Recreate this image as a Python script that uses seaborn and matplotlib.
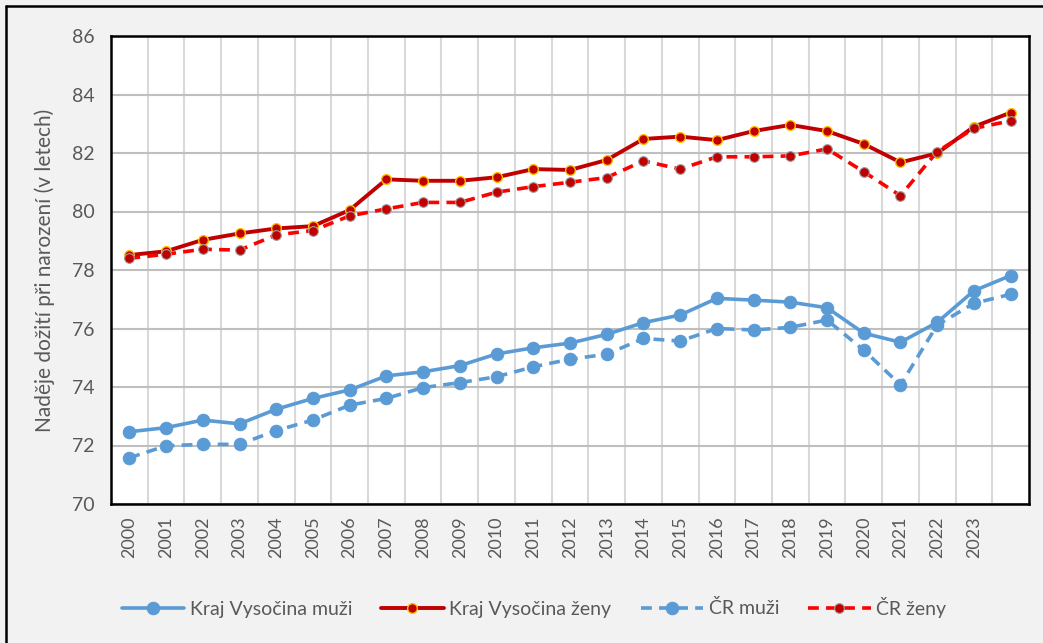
import pandas as pd
import matplotlib.pyplot as plt
import seaborn as sns
from matplotlib.lines import Line2D

# data
roky = list(range(2000, 2025))
popisky = [str(r) for r in range(2000, 2024)] + ['']

kraj_muzi = [72.47, 72.61, 72.87, 72.74, 73.24, 73.61, 73.90, 74.38, 74.52, 74.73,
             75.13, 75.34, 75.50, 75.80, 76.20, 76.46, 77.03, 76.97, 76.90, 76.71,
             75.84, 75.53, 76.21, 77.29, 77.81]
kraj_zeny = [78.51, 78.64, 79.03, 79.25, 79.42, 79.50, 80.05, 81.10, 81.05, 81.05,
             81.17, 81.45, 81.42, 81.76, 82.48, 82.56, 82.44, 82.75, 82.96, 82.75,
             82.31, 81.68, 81.99, 82.90, 83.38]
cr_muzi = [71.58, 71.99, 72.04, 72.04, 72.51, 72.87, 73.38, 73.61, 73.98, 74.15,
           74.35, 74.69, 74.95, 75.12, 75.66, 75.57, 76.00, 75.95, 76.04, 76.29,
           75.26, 74.07, 76.12, 76.86, 77.17]
cr_zeny = [78.40, 78.54, 78.71, 78.68, 79.20, 79.35, 79.85, 80.09, 80.31, 80.31,
           80.66, 80.85, 81.00, 81.16, 81.73, 81.45, 81.87, 81.87, 81.90, 82.14,
           81.36, 80.54, 82.05, 82.84, 83.10]

df = pd.DataFrame({'rok': roky, 'Kraj Vysočina muži': kraj_muzi,
                   'Kraj Vysočina ženy': kraj_zeny, 'ČR muži': cr_muzi,
                   'ČR ženy': cr_zeny})

sns.set_theme(style="white")
plt.rcParams['font.family'] = ['Lato', 'DejaVu Sans']
seda = '#595959'

fig = plt.figure(figsize=(10.43, 6.43), dpi=100, facecolor='#f2f2f2')
ax = fig.add_axes([111 / 1043, 1 - 504 / 643, 918 / 1043, 468 / 643])
ax.set_facecolor('white')

styly = {
    'Kraj Vysočina muži': dict(color='#5b9bd5', linestyle='-', marker='o', markersize=9,
                               markerfacecolor='#5b9bd5', markeredgecolor='#5b9bd5', linewidth=2.6),
    'Kraj Vysočina ženy': dict(color='#c00000', linestyle='-', marker='o', markersize=7,
                               markerfacecolor='#c00000', markeredgecolor='#ffc000', markeredgewidth=1.0, linewidth=2.8),
    'ČR muži': dict(color='#5b9bd5', linestyle=(0, (3, 2)), marker='o', markersize=9,
                    markerfacecolor='#5b9bd5', markeredgecolor='#5b9bd5', linewidth=2.6),
    'ČR ženy': dict(color='#ff0000', linestyle=(0, (3, 2)), marker='o', markersize=7,
                    markerfacecolor='#c00000', markeredgecolor='#a0a0a0', markeredgewidth=0.8, linewidth=2.6),
}

for nazev, st in styly.items():
    sns.lineplot(data=df, x='rok', y=nazev, ax=ax, label=nazev, **st)

ax.set_xlim(1999.5, 2024.5)
ax.set_ylim(70, 86)
ax.set_yticks(range(70, 87, 2))
ax.set_xticks(roky)
ax.set_xticklabels(popisky, rotation=90, fontsize=13, color=seda)
ax.set_xticks([r + 0.5 for r in roky[:-1]], minor=True)
ax.tick_params(axis='y', labelsize=14, labelcolor=seda, length=0, pad=12)
ax.tick_params(axis='x', which='both', length=0, pad=9)
ax.grid(axis='y', which='major', color='#bfbfbf', linewidth=1.5)
ax.grid(axis='x', which='minor', color='#d9d9d9', linewidth=1.5)
ax.set_axisbelow(True)
ax.set_xlabel('')
ax.set_ylabel('Naděje dožití při narození (v letech)', fontsize=15, color=seda, labelpad=12)
for s in ax.spines.values():
    s.set_color('black')
    s.set_linewidth(1.8)

handles, labels = ax.get_legend_handles_labels()
ax.get_legend().remove()
fig.legend(handles, labels, loc='center', bbox_to_anchor=(534 / 1043, 1 - 607 / 643), ncol=4,
           frameon=False, fontsize=14, labelcolor=seda, handlelength=3.2,
           columnspacing=1.5, handletextpad=0.3)

# outer frame lines (left and top)
fig.add_artist(Line2D([6 / 1043, 6 / 1043], [0, 1 - 6 / 643], color='black', linewidth=1.8, transform=fig.transFigure))
fig.add_artist(Line2D([6 / 1043, 1], [1 - 6 / 643, 1 - 6 / 643], color='black', linewidth=1.8, transform=fig.transFigure))

fig.savefig('out.png', dpi=100, facecolor=fig.get_facecolor())
